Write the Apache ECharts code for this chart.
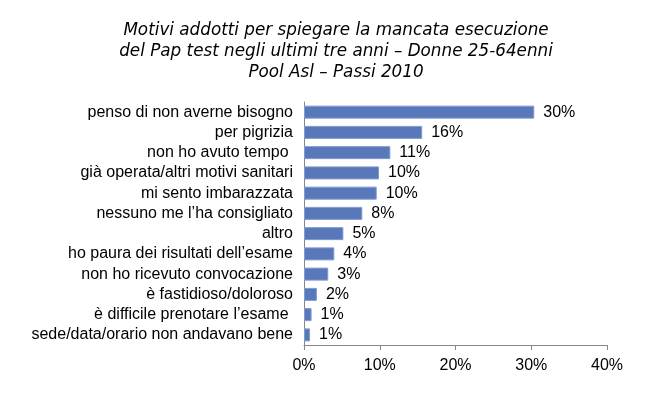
<!DOCTYPE html>
<html><head><meta charset="utf-8">
<script src="https://cdn.jsdelivr.net/npm/echarts@6/dist/echarts.min.js"></script>
<style>html,body{margin:0;padding:0;background:#fff}#c{width:660px;height:395px}</style>
</head><body><div id="c"></div>
<script>
const titleLines = ['Motivi addotti per spiegare la mancata esecuzione', 'del Pap test negli ultimi tre anni – Donne 25-64enni', 'Pool Asl – Passi 2010'];
const categories = ['penso di non averne bisogno', 'per pigrizia', 'non ho avuto tempo ', 'già operata/altri motivi sanitari', 'mi sento imbarazzata', 'nessuno me l’ha consigliato', 'altro', 'ho paura dei risultati dell’esame', 'non ho ricevuto convocazione', 'è fastidioso/doloroso', 'è difficile prenotare l’esame ', 'sede/data/orario non andavano bene'];
const values = [30.4, 15.6, 11.4, 9.9, 9.6, 7.7, 5.2, 4.0, 3.2, 1.7, 1.0, 0.8];
const xTicks = [0, 10, 20, 30, 40];

const chart = echarts.init(document.getElementById('c'));
const txt = '#000';
chart.setOption({
  animation: false,
  title: {
    text: titleLines.join('\n'),
    left: 331, top: 15, textAlign: 'center',
    textStyle: {fontFamily: 'DejaVu Sans', fontStyle: 'italic', fontWeight: 'normal', fontSize: 16.8, lineHeight: 21, color: txt, align: 'center'}
  },
  grid: {left: 304, right: 53, top: 102, height: 243, containLabel: false},
  xAxis: {
    type: 'value', min: xTicks[0], max: xTicks[xTicks.length - 1], interval: 10,
    axisLine: {show: true, lineStyle: {color: '#868686'}},
    axisTick: {show: true, length: 5, lineStyle: {color: '#868686'}},
    splitLine: {show: false},
    axisLabel: {formatter: v => v + '%', fontFamily: 'Liberation Sans', fontSize: 16, color: txt, margin: 13}
  },
  yAxis: {
    type: 'category', data: categories, inverse: true,
    axisLine: {show: true, lineStyle: {color: '#868686'}},
    axisTick: {show: false},
    axisLabel: {interval: 0, fontFamily: 'Liberation Sans', fontSize: 16, color: txt, margin: 11}
  },
  series: [{
    type: 'bar', data: values, barWidth: 13,
    itemStyle: {color: '#5878BA', borderColor: '#7F9BD0', borderWidth: 1},
    label: {show: true, position: 'right', distance: 9, formatter: p => Math.round(p.value) + '%',
      fontFamily: 'Liberation Sans', fontSize: 16, color: txt}
  }]
});
</script></body></html>
